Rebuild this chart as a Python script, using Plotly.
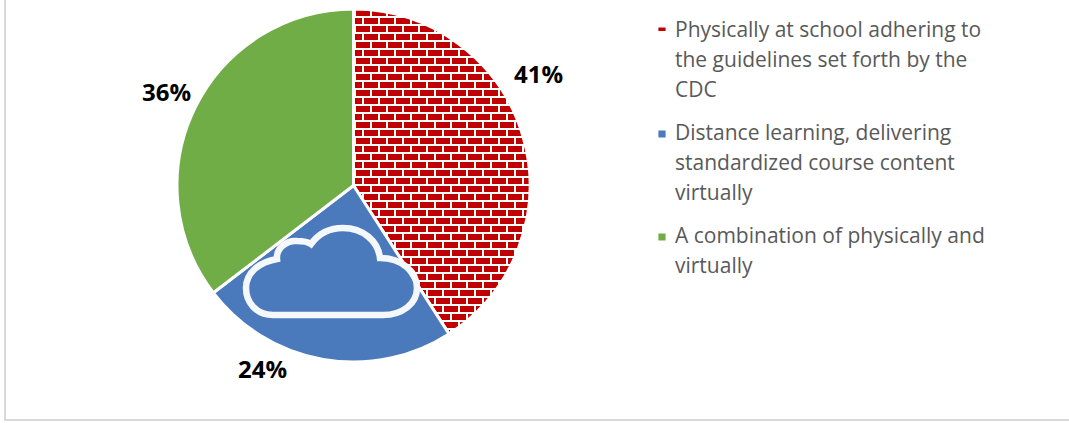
import plotly.graph_objects as go

W, H = 1069, 423

categories = [
    "Physically at school adhering to<br>the guidelines set forth by the<br>CDC",
    "Distance learning, delivering<br>standardized course content<br>virtually",
    "A combination of physically and<br>virtually",
]
values = [40.9, 23.7, 35.4]
colors = ["#C00000", "#4A7ABC", "#70AD47"]
value_labels = ["41%", "24%", "36%"]

def px(x): return x / W
def py(y): return 1 - y / H

cloud = [
    ("M", 273, 315),
    ("C", 256, 315, 246, 302, 246, 288),
    ("C", 246, 272, 260, 262, 277, 259),
    ("C", 276, 248, 287, 240, 297, 241),
    ("C", 303, 241, 308, 242, 311, 244),
    ("C", 319, 233, 331, 228, 343, 228),
    ("C", 363, 228, 378, 241, 380, 258),
    ("C", 402, 258, 417, 272, 417, 288),
    ("C", 417, 304, 402, 315, 383, 315),
    ("Z",),
]
def cloud_path():
    out = []
    for seg in cloud:
        nums = seg[1:]
        pts = [f"{px(nums[i]):.5f},{py(nums[i+1]):.5f}" for i in range(0, len(nums), 2)]
        out.append(seg[0] + " ".join(pts))
    return " ".join(out)

fig = go.Figure(go.Pie(
    labels=categories,
    values=values,
    sort=False,
    direction="clockwise",
    rotation=0,
    textinfo="none",
    hoverinfo="label+percent",
    marker=dict(
        colors=colors,
        line=dict(color="white", width=3),
        pattern=dict(shape=["-", "", ""], fgcolor="white", bgcolor="#C00000", size=16, solidity=0.2),
    ),
    domain=dict(x=[px(177), px(530)], y=[py(362), py(9)]),
))

label_pos = [(538, 73), (262, 368), (166, 92)]
annotations = [
    dict(text=f"<b>{t}</b>", x=px(x), y=py(y), xref="paper", yref="paper", showarrow=False,
         xanchor="center", yanchor="middle", font=dict(family="Open Sans", size=24, color="#000000"))
    for t, (x, y) in zip(value_labels, label_pos)
]

fig.update_layout(
    width=W, height=H,
    margin=dict(l=0, r=0, t=0, b=0),
    paper_bgcolor="white",
    font=dict(family="Open Sans", color="#595959"),
    showlegend=True,
    legend=dict(x=px(652), y=py(12), xanchor="left", yanchor="top", bgcolor="rgba(0,0,0,0)",
                font=dict(family="Open Sans", size=21, color="#595959"), itemclick=False, itemdoubleclick=False),
    annotations=annotations,
    shapes=[
        dict(type="path", path=cloud_path(), xref="paper", yref="paper",
             line=dict(color="#F4F8FC", width=6.5), fillcolor="rgba(0,0,0,0)"),
        dict(type="line", xref="paper", yref="paper", x0=px(5), x1=px(5), y0=py(0), y1=py(420),
             line=dict(color="#D9D9D9", width=2)),
        dict(type="line", xref="paper", yref="paper", x0=px(4), x1=1, y0=py(420), y1=py(420),
             line=dict(color="#D9D9D9", width=2)),
    ],
)

post = r"""
document.body.style.margin = '0';
var gd = document.getElementById('{plot_id}');
var NS = 'http://www.w3.org/2000/svg';
function rect(p, x, y, w, h, c) {
  var r = document.createElementNS(NS, 'rect');
  r.setAttribute('x', x); r.setAttribute('y', y); r.setAttribute('width', w); r.setAttribute('height', h);
  r.setAttribute('fill', c); p.appendChild(r);
}
function clear(p) { while (p.firstChild) p.removeChild(p.firstChild); }
var firstPat = null;
gd.querySelectorAll('pattern').forEach(function(p) {
  firstPat = firstPat || p;
  clear(p);
  p.setAttribute('width', 16); p.setAttribute('height', 16);
  rect(p, 0, 0, 16, 16, '#FFFFFF');
  rect(p, 12, 2, 14, 6, '#C00000'); rect(p, -4, 2, 14, 6, '#C00000');
  rect(p, 4, 10, 14, 6, '#C00000'); rect(p, -12, 10, 14, 6, '#C00000');
});
var lp = gd.querySelector('.legend .legendpie');
if (lp && firstPat) {
  var lpat = firstPat.cloneNode(false);
  lpat.setAttribute('id', 'legend-swatch-bar');
  rect(lpat, 0, 0, 16, 16, '#FFFFFF');
  rect(lpat, 0, 9, 16, 7, '#C00000');
  firstPat.parentNode.appendChild(lpat);
  lp.style.fill = 'url(#legend-swatch-bar)';
}
var base = [[37, 67, 97], [140, 170, 200], [243, 273]];
var sw = [31, 134, 237];
var lg = gd.querySelector('.legend');
var tf = lg.getAttribute('transform').match(/translate\(([-\d.]+)[ ,]+([-\d.]+)/);
var bx = parseFloat(tf[1]), by = parseFloat(tf[2]);
var sb = lg.querySelector('.scrollbox');
if (sb) sb.removeAttribute('clip-path');
var bg = lg.querySelector('.bg');
if (bg) bg.setAttribute('height', 280);
lg.querySelectorAll('.traces').forEach(function(g, i) {
  g.setAttribute('transform', 'translate(0,0)');
  var txt = g.querySelector('text.legendtext');
  var tsp = g.querySelectorAll('tspan.line');
  txt.setAttribute('x', 675 - bx);
  txt.setAttribute('y', base[i][0] - by);
  tsp.forEach(function(t, j) {
    t.removeAttribute('dy');
    t.setAttribute('x', 675 - bx);
    t.setAttribute('y', base[i][j] - by);
  });
  var leg = g.querySelector('.legendpoints');
  if (leg) leg.setAttribute('transform', 'translate(' + (662 - bx - 20 * 0.8) + ',' + (sw[i] - by) + ') scale(0.8)');
  var tg = g.querySelector('.legendtoggle');
  if (tg) tg.setAttribute('y', base[i][0] - 20 - by);
});
"""

fig.write_html("out.html", post_script=post, config=dict(displayModeBar=False))
